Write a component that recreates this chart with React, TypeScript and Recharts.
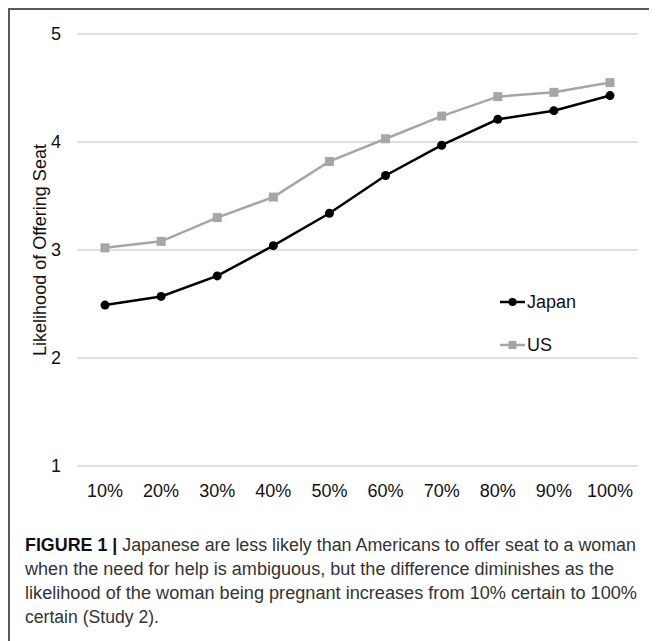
import React from "react";
import { LineChart, Line, XAxis, YAxis, CartesianGrid, Legend, Label } from "recharts";

const categories = ["10%", "20%", "30%", "40%", "50%", "60%", "70%", "80%", "90%", "100%"];
const japan = [2.49, 2.57, 2.76, 3.04, 3.34, 3.69, 3.97, 4.21, 4.29, 4.43];
const us = [3.02, 3.08, 3.3, 3.49, 3.82, 4.03, 4.24, 4.42, 4.46, 4.55];
const yTicks = [1, 2, 3, 4, 5];

const data = categories.map((c, i) => ({ cat: c, Japan: japan[i], US: us[i] }));

const FONT = "'Liberation Sans', Arial, sans-serif";

const SquareDot = (props: any) => {
  const { cx, cy } = props;
  if (cx == null || cy == null) return null;
  return <rect x={cx - 4.5} y={cy - 4.5} width={9} height={9} fill="#a6a6a6" />;
};

const CircleDot = (props: any) => {
  const { cx, cy } = props;
  if (cx == null || cy == null) return null;
  return <circle cx={cx} cy={cy} r={4.5} fill="#000" />;
};

const renderLegend = () => (
  <div style={{ fontFamily: FONT, fontSize: 18, color: "#111", lineHeight: "20px" }}>
    <div style={{ display: "flex", alignItems: "center", height: 20, marginBottom: 23 }}>
      <svg width={26} height={12}>
        <line x1={0} y1={6} x2={25} y2={6} stroke="#000" strokeWidth={2.5} />
        <circle cx={12.5} cy={6} r={4} fill="#000" />
      </svg>
      <span style={{ marginLeft: 1 }}>Japan</span>
    </div>
    <div style={{ display: "flex", alignItems: "center", height: 20 }}>
      <svg width={26} height={12}>
        <line x1={0} y1={6} x2={25} y2={6} stroke="#a6a6a6" strokeWidth={2.5} />
        <rect x={8.5} y={2} width={8} height={8} fill="#a6a6a6" />
      </svg>
      <span style={{ marginLeft: 1 }}>US</span>
    </div>
  </div>
);

const captionLines = [
  { bold: "FIGURE 1 | ", text: "Japanese are less likely than Americans to offer seat to a woman", len: 611 },
  { bold: "", text: "when the need for help is ambiguous, but the difference diminishes as the", len: 589 },
  { bold: "", text: "likelihood of the woman being pregnant increases from 10% certain to 100%", len: 612 },
  { bold: "", text: "certain (Study 2).", len: 134 },
];

export default function App() {
  return (
    <div
      style={{
        position: "relative",
        width: 649,
        height: 633,
        borderTop: "2px solid #5a5a5a",
        borderLeft: "2px solid #5a5a5a",
        boxSizing: "border-box",
        background: "#fff",
      }}
    >
      <div style={{ position: "absolute", left: 0, top: 0 }}>
        <LineChart
          width={640}
          height={500}
          data={data}
          margin={{ top: 24, right: 12, bottom: 14, left: 0 }}
        >
          <CartesianGrid vertical={false} stroke="#d4d4d4" strokeWidth={1.5} />
          <XAxis
            dataKey="cat"
            axisLine={false}
            tickLine={false}
            tickSize={0}
            tickMargin={18}
            height={30}
            padding={{ left: 28, right: 28 }}
            tick={{ fill: "#111", fontSize: 18, fontFamily: FONT }}
            interval={0}
          />
          <YAxis
            domain={[1, 5]}
            ticks={yTicks}
            axisLine={false}
            tickLine={false}
            tickSize={0}
            tickMargin={16}
            width={67}
            tick={{ fill: "#111", fontSize: 18, fontFamily: FONT }}
          >
            <Label
              value="Likelihood of Offering Seat"
              angle={-90}
              position="insideLeft"
              offset={30}
              style={{ textAnchor: "middle", fill: "#111", fontSize: 18, fontFamily: FONT }}
            />
          </YAxis>
          <Legend
            content={renderLegend}
            verticalAlign="middle"
            align="center"
            layout="horizontal"
            wrapperStyle={{ position: "absolute", left: 490, top: 282, width: 120, height: 70 }}
          />
          <Line
            dataKey="US"
            stroke="#a6a6a6"
            strokeWidth={2.5}
            dot={<SquareDot />}
            isAnimationActive={false}
          />
          <Line
            dataKey="Japan"
            stroke="#000"
            strokeWidth={2.5}
            dot={<CircleDot />}
            isAnimationActive={false}
          />
        </LineChart>
      </div>
      <svg
        width={640}
        height={123}
        style={{ position: "absolute", left: 0, top: 510 }}
      >
        {captionLines.map((l, i) => (
          <text
            key={i}
            x={15}
            y={31 + i * 24}
            textLength={l.len}
            lengthAdjust="spacingAndGlyphs"
            style={{ fontFamily: FONT, fontSize: 18, fill: "#333" }}
          >
            {l.bold ? <tspan fontWeight="bold" fill="#111">{l.bold}</tspan> : null}
            {l.text}
          </text>
        ))}
      </svg>
    </div>
  );
}
